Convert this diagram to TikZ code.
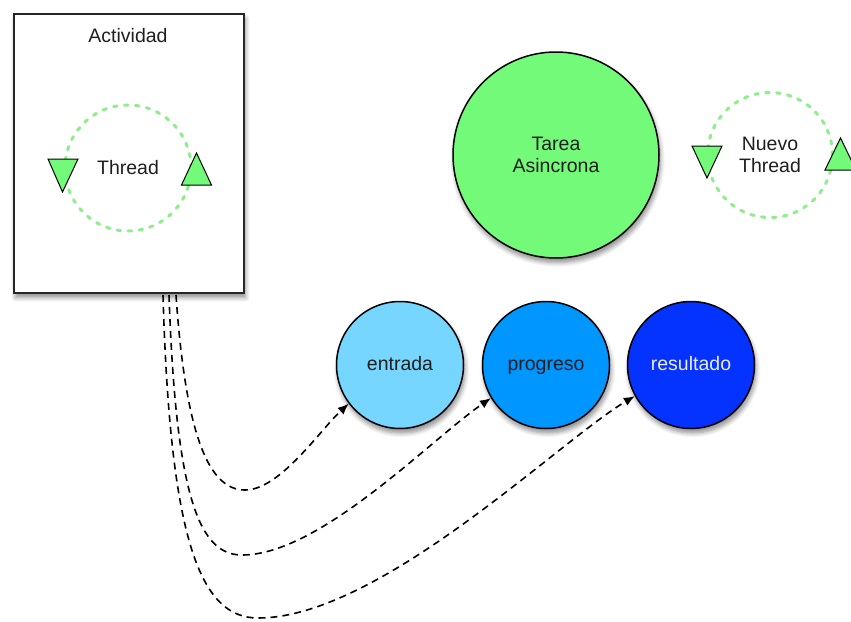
\documentclass[tikz,border=0pt]{standalone}
\usepackage{fontspec}
\setmainfont{Liberation Sans}
\usetikzlibrary{arrows.meta,shadows.blur}
\definecolor{flora}{HTML}{73FA79}
\definecolor{dotgreen}{HTML}{8EEE8E}
\definecolor{sky}{HTML}{76D6FF}
\definecolor{aqua}{HTML}{0096FF}
\definecolor{blueberry}{HTML}{0433FF}
\definecolor{txt}{HTML}{1E1E1E}
\tikzset{
  sh/.style={blur shadow={shadow blur steps=6, shadow xshift=1.5pt, shadow yshift=-4.5pt, shadow opacity=45, shadow blur radius=4.5pt}},
  bubble/.style={circle, draw=black, line width=1.5pt, inner sep=0pt, minimum size=127pt, sh, text=txt, font=\fontsize{19.5}{22}\selectfont, text height=1.3em, text depth=0.18em},
  dotring/.style={circle, draw=dotgreen, line width=3pt, dash pattern=on 3.5pt off 7.5pt, line cap=round, inner sep=0pt, minimum size=126pt, text=txt, font=\fontsize{19.5}{22}\selectfont, align=center},
  tri/.style={fill=flora, draw=black, line width=1pt, line join=miter},
  conn/.style={draw=black, line width=1.6pt, dash pattern=on 7pt off 5pt, -{Latex[length=11pt,width=9pt]}},
  lbl/.style={text=txt, font=\fontsize{19.5}{22}\selectfont, align=center, inner sep=0pt}
}
\begin{document}
\begin{tikzpicture}[x=1pt,y=-1pt]
\useasboundingbox (0,0) rectangle (851,621);
\clip (0,0) rectangle (851,621);
% Actividad box
\node[draw=black!85, line width=1.8pt, fill=white, minimum width=230pt, minimum height=279pt, inner sep=0pt, sh] (box) at (129,153.5) {};
\node[lbl] (act) at (128,36) {Actividad};
\node[dotring] (thread) at (128,168) {Thread};
\path[tri] (48,159) -- (78,159) -- (62.5,192) -- cycle;
\path[tri] (181.5,185) -- (211.5,185) -- (196.5,153) -- cycle;
% Tarea
\node[bubble, fill=flora, minimum size=206pt, align=center, text height=, text depth=] (tarea) at (556,155) {Tarea\\Asincrona};
\node[dotring, minimum size=125pt] (nuevo) at (770,155) {Nuevo\\Thread};
\path[tri] (692,146) -- (722,146) -- (707,178) -- cycle;
\path[tri] (825,170) -- (856,170) -- (840.5,138) -- cycle;
% bubbles
\node[bubble, fill=sky] (entrada) at (400,365) {entrada};
\node[bubble, fill=aqua] (progreso) at (546,365) {progreso};
\node[bubble, fill=blueberry, text=white!92!blue] (resultado) at (691,365) {resultado};
% connectors
\coordinate (s1) at (176,295);
\coordinate (s2) at (169,295);
\coordinate (s3) at (163,295);
\draw[conn] (s1) .. controls (186,440) and (210,490) .. (245,490) .. controls (280,490) and (320,430) .. (entrada.217);
\draw[conn] (s2) .. controls (176,500) and (200,555) .. (242,555) .. controls (320,555) and (430,440) .. (progreso.211);
\draw[conn] (s3) .. controls (170,540) and (200,618) .. (258,618) .. controls (380,618) and (560,440) .. (resultado.209);
\end{tikzpicture}
\end{document}
